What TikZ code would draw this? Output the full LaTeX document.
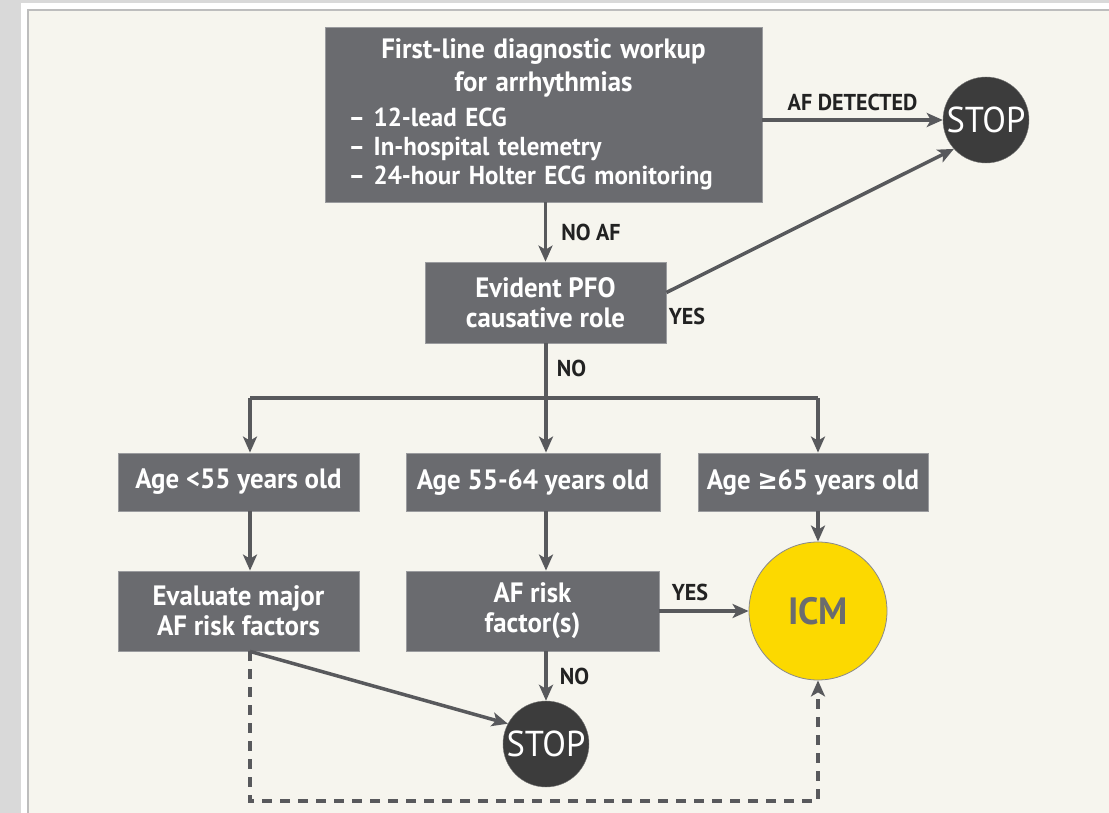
\documentclass[tikz,border=0pt]{standalone}
\usepackage{fontspec}
\setmainfont[FakeStretch=0.96]{PT Sans}
\newfontfamily\symfont[FakeStretch=0.86]{DejaVu Sans}
\usetikzlibrary{arrows.meta}
\definecolor{outergrey}{HTML}{D9D9D9}
\definecolor{framegrey}{HTML}{BDBDBD}
\definecolor{cream}{HTML}{F6F5EE}
\definecolor{boxgrey}{HTML}{6A6B6F}
\definecolor{boxedge}{HTML}{9A9B9E}
\definecolor{linegrey}{HTML}{58595C}
\definecolor{stopgrey}{HTML}{3C3C3C}
\definecolor{icmyellow}{HTML}{FCD900}
\definecolor{icmtext}{HTML}{6B6C6F}
\definecolor{lblblack}{HTML}{222222}

\begin{document}
\begin{tikzpicture}[x=1pt, y=-1pt]
    \tikzstyle{box} = [draw=boxedge, line width=0.8pt, fill=boxgrey, text=white, inner sep=0pt,
      align=center, font=\bfseries\fontsize{28}{30}\selectfont];
    \tikzstyle{stopnode} = [circle, draw=stopgrey!70, fill=stopgrey, text=white, inner sep=0pt,
      minimum size=86pt, font=\fontsize{36}{36}\selectfont];
    \tikzstyle{icmnode} = [circle, draw=icmtext!80, line width=0.8pt, fill=icmyellow, text=icmtext,
      inner sep=0pt, minimum size=138pt, font=\bfseries\fontsize{38}{38}\selectfont];
    \tikzstyle{link} = [draw=linegrey, line width=3.5pt, -{Stealth[length=16pt, width=14pt, inset=4pt]}];
    \tikzstyle{plain} = [draw=linegrey, line width=3.5pt];
    \tikzstyle{lbl} = [text=lblblack, inner sep=0pt, font=\bfseries\fontsize{23}{23}\selectfont];
    \useasboundingbox (0,0) rectangle (1109,813);
    % frame:
    \fill[outergrey] (0,0) rectangle (1109,813);
    \fill[white] (21,3) rectangle (1109,813);
    \fill[framegrey] (27,9) rectangle (1109,813);
    \fill[cream] (29,11) rectangle (1109,813);
    % boxes:
    \node[box, minimum width=437pt, minimum height=175pt, text width=390pt,
      font=\bfseries\fontsize{26}{29}\selectfont] (workup) at (543.5,114.5)
      {{\centering\fontsize{28}{29}\selectfont First-line diagnostic workup\\[4pt] for arrhythmias\par}
       \vspace{6pt}
       {\raggedright -- 12-lead ECG\\ -- In-hospital telemetry\\ -- 24-hour Holter ECG monitoring\par}};
    \node[box, minimum width=241pt, minimum height=81pt] (pfo) at (545.5,302.5)
      {Evident PFO\\ causative role};
    \node[box, minimum width=241pt, minimum height=58pt] (age1) at (238.5,482) {Age {<}55 years old};
    \node[box, minimum width=254pt, minimum height=58pt] (age2) at (533,482) {Age 55-64 years old};
    \node[box, minimum width=230pt, minimum height=58pt] (age3) at (813,482)
      {Age {\symfont ≥}65 years old};
    \node[box, minimum width=241pt, minimum height=80pt] (major) at (238.5,611)
      {Evaluate major\\ AF risk factors};
    \node[box, minimum width=253pt, minimum height=80pt] (risk) at (532.5,611)
      {AF risk\\ factor(s)};
    \node[stopnode] (stopA) at (986,120) {STOP};
    \node[stopnode] (stopB) at (546,744) {STOP};
    \node[icmnode] (icm) at (818,611) {ICM};
    % points:
    \coordinate (split) at (546,398);
    \coordinate (s1) at (250,398);
    \coordinate (s3) at (818,398);
    \coordinate (d1) at (250,801);
    \coordinate (d2) at (818,801);
    % lines:
    \draw[link] (workup.east |- stopA) -- node[lbl, above=7pt] {AF DETECTED} (stopA.west);
    \draw[link] (pfo.north |- workup.south) -- node[lbl, right=14pt] {NO AF} (pfo.north);
    \draw[link] ([yshift=10pt]pfo.east) -- (stopA.222);
    \node[lbl] (yesA) at (687,316) {YES};
    \draw[plain] (pfo.south -| split) -- node[lbl, right=9pt, pos=0.45] {NO} (split);
    \draw[plain] (s1) -- (s3);
    \draw[link] (s1) -- (s1 |- age1.north);
    \draw[link] (split) -- (split |- age2.north);
    \draw[link] (s3) -- (s3 |- age3.north);
    \draw[link] (s1 |- age1.south) -- (s1 |- major.north);
    \draw[link] (split |- age2.south) -- (split |- risk.north);
    \draw[link] (s3 |- age3.south) -- (icm.north);
    \draw[link] (risk.east |- icm) -- (icm.west);
    \node[lbl] (yesB) at (690,592) {YES};
    \draw[link] (split |- risk.south) -- node[lbl, right=12pt] {NO} (stopB.north);
    \draw[link] (s1 |- major.south) -- (stopB.152);
    \draw[link, dash pattern=on 10pt off 8pt] (s1 |- major.south) -- (d1) -- (d2) -- (icm.south);
\end{tikzpicture}
\end{document}
